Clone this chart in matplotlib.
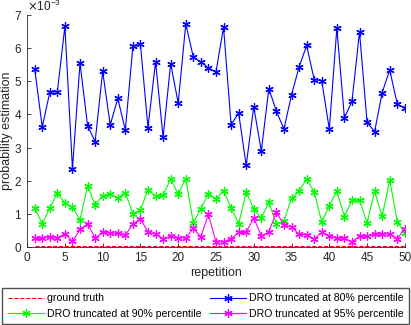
import matplotlib.pyplot as plt
from matplotlib.ticker import ScalarFormatter

plt.rcParams['font.family'] = ['Liberation Sans', 'DejaVu Sans']

rep = list(range(1, 51))
# values in units of 1e-3
dro80 = [5.38, 3.62, 4.67, 4.68, 6.66, 2.36, 5.55, 3.66, 3.18, 5.30,
         3.68, 4.48, 3.53, 6.05, 6.11, 3.60, 5.59, 3.31, 5.53, 4.34,
         6.73, 5.73, 5.58, 5.40, 5.28, 6.63, 3.69, 4.04, 2.46, 4.23,
         2.90, 4.78, 4.09, 3.56, 4.59, 5.43, 6.08, 5.05, 5.01, 3.56,
         6.60, 3.90, 4.39, 6.49, 3.76, 3.48, 4.66, 5.34, 4.31, 4.20]
dro90 = [1.18, 0.70, 1.18, 1.62, 1.32, 1.20, 0.82, 1.83, 1.28, 1.54,
         1.59, 1.48, 1.63, 1.00, 1.12, 1.73, 1.53, 1.56, 2.06, 1.59,
         2.06, 0.73, 1.16, 1.61, 1.45, 1.70, 1.18, 0.70, 1.66, 1.15,
         0.86, 1.35, 0.70, 0.79, 1.47, 1.69, 2.05, 1.66, 0.75, 1.24,
         1.69, 0.92, 1.41, 1.41, 0.73, 1.68, 0.93, 2.03, 0.76, 0.41]
dro95 = [0.26, 0.26, 0.31, 0.27, 0.40, 0.17, 0.53, 0.70, 0.27, 0.45,
         0.42, 0.41, 0.36, 0.69, 0.85, 0.45, 0.39, 0.25, 0.32, 0.27,
         0.27, 0.56, 0.31, 0.99, 0.15, 0.15, 0.25, 0.44, 0.44, 0.88,
         0.33, 0.46, 1.05, 0.67, 0.61, 0.38, 0.37, 0.24, 0.44, 0.34,
         0.26, 0.27, 0.16, 0.32, 0.33, 0.39, 0.39, 0.39, 0.25, 0.55]
truth = 0.02

scale = 1e-3
star = (6, 2, 0)  # asterisk like MATLAB '*'
fig = plt.figure(figsize=(4.11, 3.25), dpi=100)
ax = fig.add_axes([0.066, 0.24, 0.919, 0.714])

gt, = ax.plot(rep, [truth * scale] * len(rep), '--', color='red', lw=0.8,
              label='ground truth')
l80, = ax.plot(rep, [v * scale for v in dro80], '-', marker=star, color='#0000ff',
               lw=0.8, ms=6, mew=0.9, label='DRO truncated at 80% percentile')
l90, = ax.plot(rep, [v * scale for v in dro90], '-', marker=star, color='#00ff00',
               lw=0.8, ms=6, mew=0.9, label='DRO truncated at 90% percentile')
l95, = ax.plot(rep, [v * scale for v in dro95], '-', marker=star, color='#ff00ff',
               lw=0.8, ms=6, mew=0.9, label='DRO truncated at 95% percentile')

ax.set_xlim(0, 50)
ax.set_ylim(0, 7e-3)
ax.set_xticks(range(0, 51, 5))
ax.set_yticks([i * scale for i in range(8)])
fmt = ScalarFormatter(useMathText=True)
fmt.set_powerlimits((-2, 2))
ax.yaxis.set_major_formatter(fmt)
ax.yaxis.get_offset_text().set_fontsize(8.5)

for s in ['top', 'right']:
    ax.spines[s].set_visible(False)
for s in ['left', 'bottom']:
    ax.spines[s].set_color('#262626')
    ax.spines[s].set_linewidth(0.6)
ax.tick_params(direction='in', labelsize=8.5, colors='#262626', length=3, width=0.6)
ax.set_xlabel('repetition', fontsize=9, color='#262626', labelpad=2)
ax.set_ylabel('probability estimation', fontsize=9, color='#262626', labelpad=1)

fig.legend(handles=[gt, l90, l80, l95], ncol=2, loc='lower center',
           bbox_to_anchor=(0.5, 0.0), fontsize=7.6, frameon=True, fancybox=False,
           edgecolor='#262626', handlelength=3.4, borderpad=0.5, labelspacing=0.5,
           columnspacing=0.8, handletextpad=0.3, borderaxespad=0.1)

fig.savefig('out.png', dpi=100)
